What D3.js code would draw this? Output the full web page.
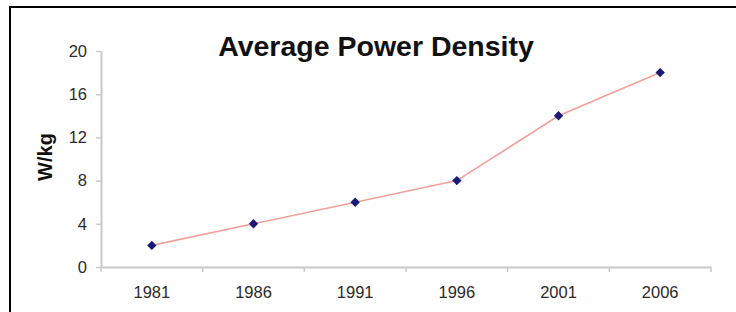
<!DOCTYPE html>
<html>
<head>
<meta charset="utf-8">
<script src="https://cdn.jsdelivr.net/npm/d3@7"></script>
<style>
  html, body { margin: 0; padding: 0; background: #fff; }
  svg { display: block; }
  text { font-family: "Liberation Sans", Arial, sans-serif; }
</style>
</head>
<body>
<svg id="chart" width="736" height="312"></svg>
<script>
// chart data
var years = ['1981', '1986', '1991', '1996', '2001', '2006'];
var density = [2, 4, 6, 8, 14, 18];
var yTicks = [0, 4, 8, 12, 16, 20];

var svg = d3.select('#chart');

// frame (left + top edges only are visible in the picture)
svg.append('path')
  .attr('d', 'M10,312V7H736')
  .attr('fill', 'none')
  .attr('stroke', '#000')
  .attr('stroke-width', 2);

var x = d3.scaleBand().domain(years).range([101, 711]),
    y = d3.scaleLinear().domain([0, 20]).range([267, 51]);

var axisColor = '#c8c8c8';

// y axis
var yAxis = svg.append('g')
  .attr('transform', 'translate(101,0)')
  .call(d3.axisLeft(y).tickValues(yTicks).tickSize(5).tickSizeOuter(0).tickPadding(9));

// x axis
var xAxis = svg.append('g')
  .attr('transform', 'translate(0,267)')
  .call(d3.axisBottom(x).tickSize(0).tickPadding(19));

// band edge ticks, like excel's category axis
svg.append('g').selectAll('line')
  .data(years.concat(['end']))
  .join('line')
  .attr('x1', function (d, i) { return 101 + i * x.bandwidth(); })
  .attr('x2', function (d, i) { return 101 + i * x.bandwidth(); })
  .attr('y1', 267).attr('y2', 272)
  .attr('stroke', axisColor)
  .attr('stroke-width', 1.5);

[yAxis, xAxis].forEach(function (a) {
  a.select('.domain').attr('stroke', axisColor).attr('stroke-width', 2);
  a.selectAll('.tick line').attr('stroke', axisColor).attr('stroke-width', 1.5);
  a.selectAll('.tick text')
    .attr('fill', '#2a2a2a')
    .style('font-size', '16.5px');
});

// line
var line = d3.line()
  .x(function (d, i) { return x(years[i]) + x.bandwidth() / 2; })
  .y(function (d) { return y(d); });

svg.append('path')
  .datum(density)
  .attr('d', line)
  .attr('fill', 'none')
  .attr('stroke', '#f2a09a')
  .attr('stroke-width', 1.6);

// diamond markers
svg.append('g').selectAll('path')
  .data(density)
  .join('path')
  .attr('d', d3.symbol(d3.symbolDiamond2, 56))
  .attr('transform', function (d, i) {
    return 'translate(' + (x(years[i]) + x.bandwidth() / 2) + ',' + y(d) + ')';
  })
  .attr('fill', '#1c1a78');

// title
svg.append('text')
  .attr('x', 376).attr('y', 56)
  .attr('text-anchor', 'middle')
  .style('font-size', '28.5px')
  .style('font-weight', 'bold')
  .attr('fill', '#111')
  .text('Average Power Density');

// y axis label
svg.append('text')
  .attr('transform', 'translate(52,157) rotate(-90)')
  .attr('text-anchor', 'middle')
  .style('font-size', '20px')
  .style('font-weight', 'bold')
  .attr('fill', '#111')
  .text('W/kg');
</script>
</body>
</html>
